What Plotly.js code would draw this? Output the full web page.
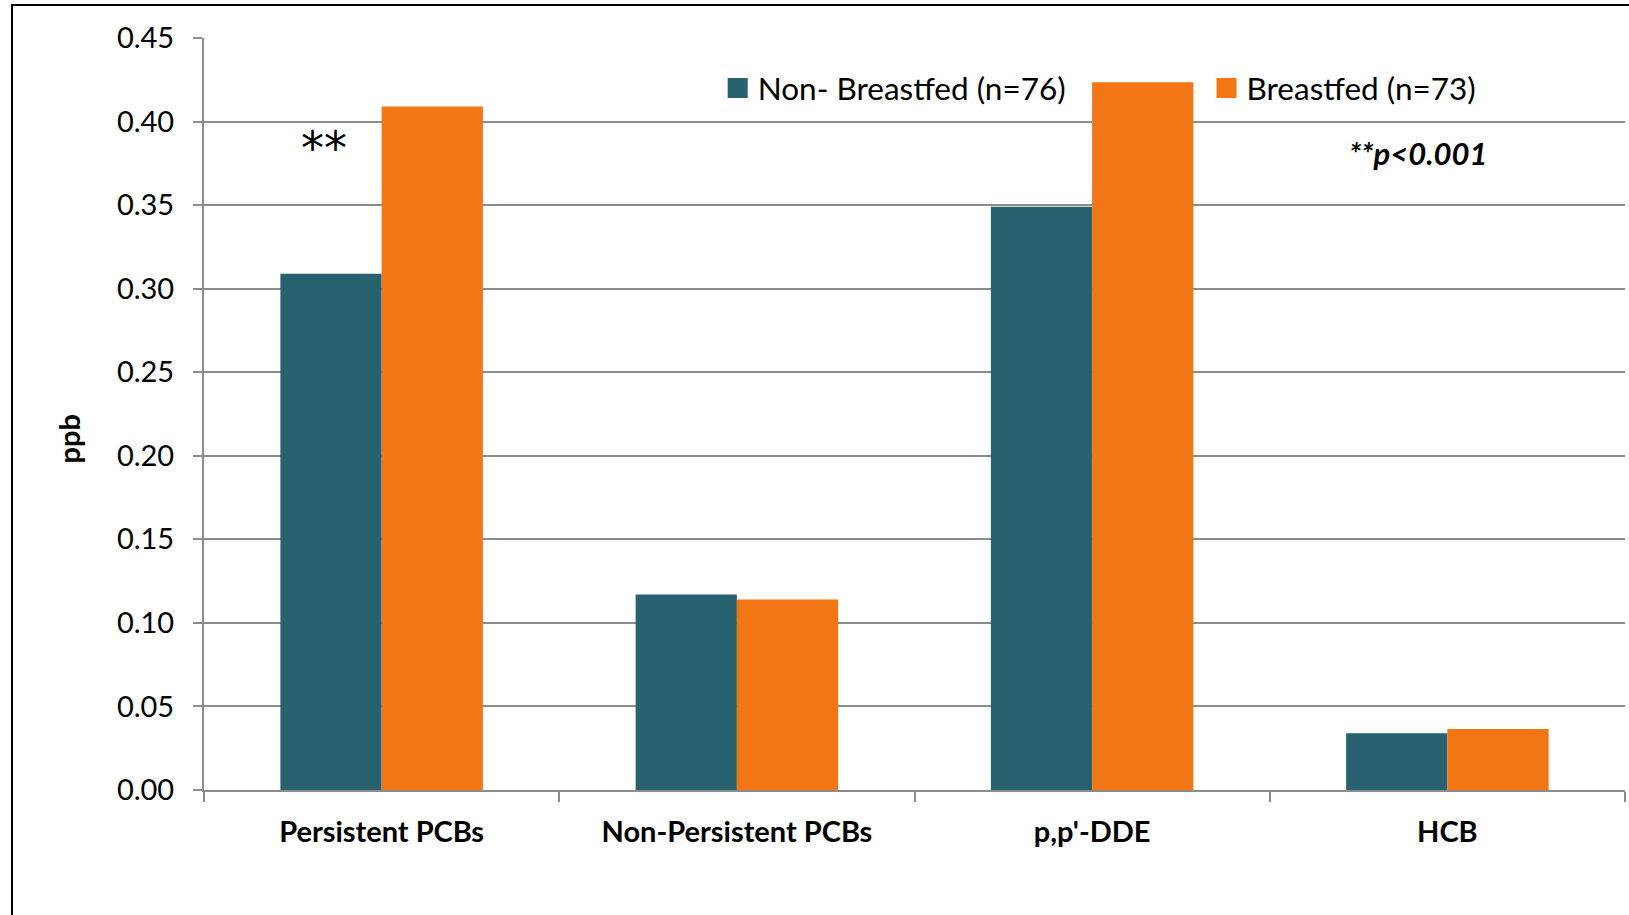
<!DOCTYPE html>
<html>
<head>
<meta charset="utf-8">
<script src="https://cdn.plot.ly/plotly-3.0.1.min.js"></script>
<style>
  html, body { margin:0; padding:0; overflow:hidden; background:#fff; }
  #chart { width:1629px; height:915px; }
  #frame { position:absolute; left:11px; top:4px; width:2000px; height:2000px; border:2px solid #000; pointer-events:none; box-sizing:border-box; }
</style>
</head>
<body>
<div id="chart"></div>
<div id="frame"></div>
<script>
const categories = ["Persistent PCBs", "Non-Persistent PCBs", "p,p'-DDE", "HCB"];
const seriesNames = ["Non- Breastfed (n=76)", "Breastfed (n=73)"];
const nonBreastfed = [0.309, 0.117, 0.349, 0.034];
const breastfed = [0.409, 0.114, 0.4235, 0.0365];
const yTickVals = [0, 0.05, 0.10, 0.15, 0.20, 0.25, 0.30, 0.35, 0.40, 0.45];
const yTickText = ["0.00", "0.05", "0.10", "0.15", "0.20", "0.25", "0.30", "0.35", "0.40", "0.45"];

const FONT = "Lato, 'Open Sans', sans-serif";

const traces = [
  { type: "bar", name: seriesNames[0], x: categories, y: nonBreastfed,
    marker: { color: "#286170" }, hoverinfo: "y", legend: "legend" },
  { type: "bar", name: seriesNames[1], x: categories, y: breastfed,
    marker: { color: "#F27613" }, hoverinfo: "y", legend: "legend2" }
];

const legendStyle = {
  orientation: "h", xanchor: "left", yanchor: "middle", y: 0.9335,
  font: { family: FONT, size: 31.5, color: "#000" },
  bgcolor: "rgba(0,0,0,0)", borderwidth: 0
};

const layout = {
  width: 1629, height: 915,
  margin: { l: 204, r: 4, t: 38, b: 125 },
  paper_bgcolor: "#fff", plot_bgcolor: "#fff",
  barmode: "group", bargap: 0.43, bargroupgap: 0,
  font: { family: FONT, color: "#000" },
  showlegend: true,
  legend: Object.assign({}, legendStyle, { x: 0.3615 }),
  legend2: Object.assign({}, legendStyle, { x: 0.7055 }),
  xaxis: {
    type: "category",
    showline: true, linecolor: "#8c8c8c", linewidth: 2,
    ticks: "outside", tickson: "boundaries", ticklen: 10, tickcolor: "#8c8c8c", tickwidth: 2,
    tickfont: { family: FONT, size: 29, color: "#000", weight: "bold" },
    ticklabelstandoff: 15,
    showgrid: false, zeroline: false, fixedrange: true
  },
  yaxis: {
    range: [0, 0.45],
    tickvals: yTickVals, ticktext: yTickText,
    showline: true, linecolor: "#8c8c8c", linewidth: 2,
    ticks: "outside", ticklen: 9, tickcolor: "#8c8c8c", tickwidth: 2,
    tickfont: { family: FONT, size: 29, color: "#000" },
    ticklabelstandoff: 13,
    showgrid: true, gridcolor: "#8c8c8c", gridwidth: 2,
    zeroline: false, fixedrange: true
  },
  annotations: [
    { xref: "paper", yref: "paper", x: (67.5 - 204) / 1421, y: (790 - 439) / 752,
      text: "<b>ppb</b>", textangle: -90, showarrow: false,
      font: { family: FONT, size: 29, color: "#000" },
      xanchor: "center", yanchor: "middle" },
    { xref: "paper", yref: "paper", x: (324 - 204) / 1421, y: (790 - 148) / 752,
      text: "**", showarrow: false, font: { family: "'DejaVu Sans', sans-serif", size: 46, color: "#000" },
      xanchor: "center", yanchor: "middle" },
    { xref: "paper", yref: "paper", x: (1418 - 204) / 1421, y: (790 - 153) / 752,
      text: "<b><i>**p<0.001</i></b>", showarrow: false,
      font: { family: FONT, size: 31, color: "#000" },
      xanchor: "center", yanchor: "middle" }
  ]
};

Plotly.newPlot("chart", traces, layout, { displayModeBar: false, staticPlot: true }).then(function () {
  document.querySelectorAll(".legendpoints path").forEach(function (p) {
    p.setAttribute("d", "M10,10H-10V-10H10Z");
  });
});
</script>
</body>
</html>
